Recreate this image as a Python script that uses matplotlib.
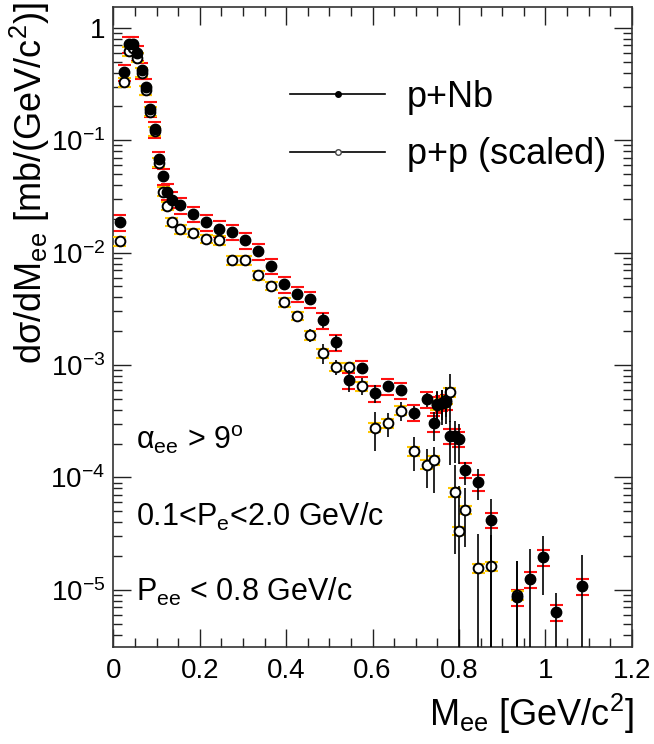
import numpy as np
import matplotlib
matplotlib.use("Agg")
import matplotlib.pyplot as plt
from matplotlib.lines import Line2D
from matplotlib.ticker import FixedLocator, LogLocator, FuncFormatter, MultipleLocator

plt.rcParams['font.family'] = ['Liberation Sans', 'DejaVu Sans']
plt.rcParams['mathtext.fontset'] = 'custom'
plt.rcParams['mathtext.rm'] = 'Liberation Sans'
plt.rcParams['mathtext.it'] = 'Liberation Sans:italic'

# p+Nb: invariant-mass bin centres, cross sections, relative stat errors (down, up)
m_nb = [0.015, 0.025, 0.035, 0.045, 0.055, 0.065, 0.075, 0.085, 0.095, 0.105, 0.115, 0.125, 0.135,
        0.155, 0.185, 0.215, 0.245, 0.275, 0.305, 0.335, 0.365, 0.395, 0.425, 0.455, 0.485, 0.515,
        0.545, 0.575, 0.605, 0.635, 0.665, 0.695, 0.725,
        0.741, 0.748, 0.760, 0.771, 0.779, 0.790, 0.799,
        0.815, 0.845, 0.875, 0.935, 0.965, 0.995, 1.025, 1.085]
xs_nb = [0.0186, 0.403, 0.716, 0.716, 0.60, 0.42, 0.30, 0.19, 0.126, 0.068, 0.048, 0.035, 0.0297,
         0.0265, 0.0221, 0.0186, 0.0164, 0.0153, 0.0129, 0.01025, 0.00763, 0.00521, 0.00430, 0.00385, 0.00251, 0.00160,
         7.34e-4, 9.4e-4, 5.6e-4, 6.5e-4, 5.98e-4, 3.78e-4, 4.94e-4,
         3.02e-4, 4.49e-4, 4.61e-4, 4.71e-4, 2.34e-4, 2.34e-4, 2.2e-4,
         1.17e-4, 9.1e-5, 4.2e-5, 8.6e-6, 1.24e-5, 1.95e-5, 6.3e-6, 1.08e-5]
stat_dn_nb = [0.03, 0.02, 0.02, 0.02, 0.02, 0.02, 0.02, 0.02, 0.02, 0.03, 0.03, 0.03, 0.03,
              0.03, 0.03, 0.03, 0.03, 0.04, 0.04, 0.05, 0.05, 0.06, 0.07, 0.08, 0.15, 0.16,
              0.22, 0.10, 0.18, 0.12, 0.12, 0.15, 0.15,
              0.30, 0.37, 0.37, 0.37, 0.45, 0.42, 0.40,
              0.27, 0.31, 0.999, 0.999, 0.999, 0.54, 0.999, 0.999]
stat_up_nb = [0.03, 0.02, 0.02, 0.02, 0.02, 0.02, 0.02, 0.02, 0.02, 0.03, 0.03, 0.03, 0.03,
              0.03, 0.03, 0.03, 0.03, 0.04, 0.04, 0.05, 0.05, 0.06, 0.07, 0.08, 0.15, 0.16,
              0.22, 0.10, 0.18, 0.12, 0.12, 0.15, 0.15,
              0.27, 0.30, 0.30, 0.30, 0.36, 0.36, 0.37,
              0.18, 0.31, 0.53, 1.10, 0.87, 0.54, 0.50, 0.90]
sys_nb = 0.16

# p+p (scaled)
m_pp = [0.015, 0.025, 0.035, 0.045, 0.055, 0.065, 0.075, 0.085, 0.095, 0.105, 0.115, 0.125, 0.135,
        0.155, 0.185, 0.215, 0.245, 0.275, 0.305, 0.335, 0.365, 0.395, 0.425, 0.455, 0.485, 0.515,
        0.545, 0.575, 0.605, 0.635, 0.665, 0.695, 0.725,
        0.741, 0.748, 0.760, 0.771, 0.779, 0.790, 0.799,
        0.815, 0.845, 0.875, 0.935]
xs_pp = [0.0127, 0.329, 0.624, 0.656, 0.545, 0.40, 0.28, 0.18, 0.12, 0.0634, 0.035, 0.0261, 0.0188,
         0.0162, 0.0150, 0.0133, 0.0129, 0.00857, 0.00857, 0.00627, 0.00507, 0.00361, 0.00274, 0.00185, 0.00128, 9.65e-4,
         9.65e-4, 6.5e-4, 2.78e-4, 3.02e-4, 3.94e-4, 1.71e-4, 1.30e-4,
         1.43e-4, 4.4e-4, 4.6e-4, 4.9e-4, 5.7e-4, 7.4e-5, 3.35e-5,
         5.15e-5, 1.56e-5, 1.63e-5, 9.0e-6]
stat_dn_pp = [0.04, 0.02, 0.02, 0.02, 0.02, 0.02, 0.02, 0.02, 0.02, 0.03, 0.03, 0.03, 0.04,
              0.04, 0.04, 0.04, 0.04, 0.05, 0.05, 0.06, 0.06, 0.06, 0.07, 0.13, 0.20, 0.15,
              0.10, 0.17, 0.38, 0.24, 0.20, 0.33, 0.38,
              0.49, 0.30, 0.30, 0.30, 0.45, 0.72, 0.999,
              0.53, 0.999, 0.999, 0.999]
stat_up_pp = [0.04, 0.02, 0.02, 0.02, 0.02, 0.02, 0.02, 0.02, 0.02, 0.03, 0.03, 0.03, 0.04,
              0.04, 0.04, 0.04, 0.04, 0.05, 0.05, 0.06, 0.06, 0.06, 0.07, 0.13, 0.20, 0.15,
              0.10, 0.17, 0.38, 0.24, 0.20, 0.33, 0.38,
              0.30, 0.30, 0.30, 0.30, 0.47, 0.74, 1.50,
              0.55, 1.00, 0.90, 1.00]
sys_pp = 0.09

bin_half = 0.015

m_nb, xs_nb = np.array(m_nb), np.array(xs_nb)
m_pp, xs_pp = np.array(m_pp), np.array(xs_pp)

fig = plt.figure(figsize=(6.54, 7.44), dpi=100)
ax = fig.add_axes([0.1735, 0.1304, 0.7925, 0.860])
ax.set_yscale('log')

# systematic error caps
ax.hlines(np.concatenate([xs_nb * (1 + sys_nb), xs_nb * (1 - sys_nb)]),
          np.tile(m_nb - bin_half, 2), np.tile(m_nb + bin_half, 2),
          color='#ff1010', lw=1.5, zorder=2)
ax.hlines(np.concatenate([xs_pp * (1 + sys_pp), xs_pp * (1 - sys_pp)]),
          np.tile(m_pp - bin_half, 2), np.tile(m_pp + bin_half, 2),
          color='#ffc800', lw=1.5, zorder=3)

# statistical errors and points
ax.errorbar(m_pp, xs_pp, yerr=[xs_pp * np.array(stat_dn_pp), xs_pp * np.array(stat_up_pp)],
            fmt='o', ms=7, mfc='white', mec='black', mew=1.4, ecolor='black', elinewidth=1.2,
            capsize=0, zorder=4)
ax.errorbar(m_nb, xs_nb, yerr=[xs_nb * np.array(stat_dn_nb), xs_nb * np.array(stat_up_nb)],
            fmt='o', ms=7.5, mfc='black', mec='black', ecolor='black', elinewidth=1.2,
            capsize=0, zorder=5)

ax.set_xlim(0, 1.2)
ax.set_ylim(3.1e-6, 1.53)

ax.xaxis.set_major_locator(MultipleLocator(0.2))
ax.xaxis.set_minor_locator(MultipleLocator(0.05))
ax.xaxis.set_major_formatter(FuncFormatter(lambda v, p: '%g' % round(v, 2)))
ax.yaxis.set_major_locator(FixedLocator([1e-5, 1e-4, 1e-3, 1e-2, 1e-1, 1]))
ax.yaxis.set_minor_locator(LogLocator(base=10, subs=np.arange(2, 10)))


def ylab(v, p):
    e = int(round(np.log10(v)))
    return '1' if e == 0 else r'$10^{%d}$' % e


ax.yaxis.set_major_formatter(FuncFormatter(ylab))
ax.tick_params(which='both', direction='in', top=True, right=True, width=1.0, colors='#222222',
               labelcolor='black')
ax.tick_params(which='major', length=13, labelsize=20)
ax.tick_params(which='minor', length=6.5)
ax.tick_params(axis='x', pad=8)
ax.tick_params(axis='y', pad=6)
for s in ax.spines.values():
    s.set_linewidth(1.2)
    s.set_color('#333333')

fig.text(30 / 654, 1 - 2 / 744, r'dσ/dM$_{\mathrm{ee}}$ [mb/(GeV/c$^{\mathrm{2}}$)]',
         rotation=90, ha='center', va='top', fontsize=26)
fig.text(634 / 654, 1 - 726 / 744, r'M$_{\mathrm{ee}}$ [GeV/c$^{\mathrm{2}}$]',
         ha='right', va='baseline', fontsize=26)

ax.text(0.044, 0.309, r'α$_{\mathrm{ee}}$ > 9$^{\mathrm{o}}$', transform=ax.transAxes, fontsize=22)
ax.text(0.044, 0.189, r'0.1<P$_{\mathrm{e}}$<2.0 GeV/c', transform=ax.transAxes, fontsize=22)
ax.text(0.044, 0.072, r'P$_{\mathrm{ee}}$ < 0.8 GeV/c', transform=ax.transAxes, fontsize=22)

handles = [Line2D([], [], color='black', lw=1.2, marker='o', ms=4, mfc='black'),
           Line2D([], [], color='black', lw=1.2, marker='o', ms=4, mfc='white', mec='#444444')]
ax.legend(handles, ['p+Nb', 'p+p (scaled)'], loc='upper left', bbox_to_anchor=(0.34, 0.886),
          frameon=False, fontsize=26, handlelength=2.65, handletextpad=0.6, labelspacing=0.62,
          borderpad=0, borderaxespad=0)

fig.savefig('out.png', dpi=100)
